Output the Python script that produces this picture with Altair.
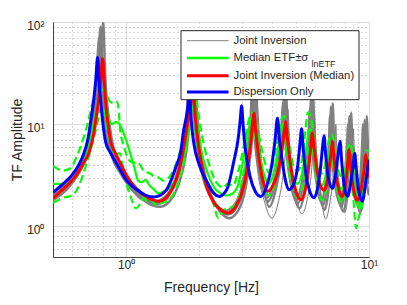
import altair as alt
import pandas as pd

# ---------------- data ----------------
# Dispersion Only (blue)
blue_f = [0.50, 0.55, 0.592, 0.635, 0.672, 0.70, 0.716, 0.735, 0.75, 0.763, 0.775, 0.787, 0.805, 0.825, 0.86,
          0.893, 0.95, 1.0, 1.026, 1.1, 1.2, 1.3, 1.45, 1.597, 1.68, 1.727, 1.76, 1.799, 1.816, 1.835, 1.86,
          1.9, 2.0, 2.148, 2.28, 2.414, 2.6, 2.767, 2.901, 2.95, 2.99, 3.03, 3.088, 3.237, 3.4, 3.58, 3.8,
          3.98, 4.1, 4.2, 4.28, 4.39, 4.53, 4.69, 4.9, 5.08, 5.2, 5.28, 5.36, 5.5, 5.7, 5.94, 6.15, 6.32,
          6.45, 6.53, 6.62, 6.75, 7.07, 7.3, 7.47, 7.6, 7.72, 7.9, 8.15, 8.4, 8.6, 8.73, 8.85, 9.05, 9.39,
          9.65, 9.85, 10.0]
blue_a = [2.15, 2.6, 3.08, 3.9, 5.25, 7.6, 11.0, 17, 27, 45, 25, 16.2, 9.5, 6.6, 5.3,
          4.5, 3.5, 2.85, 2.66, 2.3, 2.02, 1.93, 2.2, 3.7, 5.5, 8.8, 11, 15.5, 35, 17, 10,
          6.5, 4.0, 2.75, 2.15, 1.96, 2.3, 4.17, 7.58, 11, 15.1, 10, 6.05, 3.08, 2.2, 1.96, 2.5,
          4.0, 6.8, 11.4, 7, 4.4, 2.8, 2.28, 2.6, 3.8, 6.5, 9.0, 5.8, 3.2, 2.2, 1.9, 2.4, 3.8,
          6.2, 7.7, 5.3, 3.3, 2.35, 3.3, 5.2, 6.8, 4.3, 2.5, 1.96, 2.6, 3.9, 5.2, 3.8, 2.3, 1.75,
          2.5, 3.6, 4.5]

# Joint Inversion (Median) (red)
red_f = [0.50, 0.56, 0.62, 0.665, 0.704, 0.735, 0.75, 0.77, 0.786, 0.80, 0.812, 0.825, 0.845, 0.865, 0.9,
         0.94, 1.0, 1.1, 1.2, 1.37, 1.5, 1.6, 1.66, 1.72, 1.79, 1.855, 1.88, 1.91, 1.96, 2.03, 2.15, 2.3,
         2.45, 2.63, 2.82, 2.98, 3.15, 3.27, 3.36, 3.42, 3.48, 3.58, 3.7, 3.83, 4.02, 4.2, 4.37, 4.47, 4.54,
         4.6, 4.66, 4.8, 5.0, 5.24, 5.42, 5.58, 5.72, 5.85, 5.93, 6.0, 6.15, 6.33, 6.53, 6.7, 6.88, 7.0,
         7.07, 7.14, 7.22, 7.42, 7.6, 7.77, 7.97, 8.13, 8.27, 8.38, 8.5, 8.7, 8.96, 9.2, 9.4, 9.57, 9.69,
         9.8, 10.0]
red_a = [1.88, 2.4, 3.1, 4.1, 5.3, 8, 11, 17, 27, 44, 27, 16, 9.5, 6.6, 5.3,
         4.3, 3.2, 2.35, 1.98, 1.76, 2.05, 2.8, 3.7, 5.6, 10, 18, 40, 16, 8, 4.4, 2.4, 1.7,
         1.45, 1.35, 1.55, 2.05, 3.6, 7, 12.8, 8.5, 5.8, 3.6, 2.55, 2.2, 2.5, 3.3, 5.5, 8, 10.6,
         7.8, 5.8, 3.4, 2.2, 1.82, 2.1, 3.0, 5, 8.2, 6.2, 4.8, 3.2, 2.45, 2.25, 2.6, 4.0, 5.6,
         6.8, 5.4, 4.1, 2.6, 2.1, 1.96, 2.4, 3.6, 5.6, 4.3, 3.0, 2.1, 1.8, 2.1, 2.8, 3.8, 5.0,
         4.2, 3.0]

# Median ETF (green solid) and median ETF +/- sigma (green dashed)
gs_f = [0.50, 0.56, 0.62, 0.66, 0.70, 0.735, 0.76, 0.785, 0.81, 0.835, 0.87, 0.91, 0.94, 0.97, 1.0,
        1.04, 1.08, 1.12, 1.16, 1.2, 1.25, 1.3, 1.36, 1.43, 1.52, 1.62, 1.72, 1.80, 1.85, 1.88, 1.93,
        1.98, 2.04, 2.15, 2.3, 2.45, 2.6, 2.75, 2.9, 3.05, 3.2, 3.3, 3.4, 3.55, 3.7, 3.85, 4.0, 4.15,
        4.3, 4.42, 4.55, 4.7, 4.9, 5.1, 5.3, 5.5, 5.7, 5.85, 6.0, 6.2, 6.4, 6.6, 6.8, 6.95, 7.1, 7.3,
        7.5, 7.8, 8.0, 8.2, 8.4, 8.6, 8.85, 9.1, 9.3, 9.5, 9.7, 9.85, 10.0]
gs_a = [2.6, 2.6, 3.0, 4.0, 6.0, 10, 15, 21, 22, 14, 10, 10.5, 10, 8.5, 7.0,
        5.2, 3.8, 2.8, 2.7, 2.85, 2.5, 2.3, 2.1, 2.2, 2.4, 3.1, 4.8, 9, 20, 24, 13,
        8.5, 5.5, 3.5, 2.4, 2.1, 2.0, 2.1, 2.6, 4.8, 9, 12, 10, 5, 3.2, 2.6, 3.0, 4.5,
        7.5, 10, 7, 4, 2.8, 2.6, 3.3, 5.5, 9, 8, 5, 3.0, 2.5, 3.0, 4.5, 6.5, 5.5, 3.5,
        2.5, 2.3, 3.3, 5.0, 4.5, 3.0, 2.0, 1.5, 2.0, 3.0, 4.2, 4.5, 4.6]
gu_f = [0.50, 0.55, 0.59, 0.63, 0.67, 0.70, 0.73, 0.75, 0.775, 0.80, 0.83, 0.86, 0.89, 0.92, 0.95,
        0.98, 1.02, 1.07, 1.12, 1.18, 1.25, 1.3, 1.36, 1.42, 1.5, 1.6, 1.7, 1.78, 1.84, 1.9, 1.96,
        2.03, 2.1, 2.2, 2.35, 2.5, 2.62, 2.75, 2.9, 3.05, 3.2, 3.32, 3.45, 3.6, 3.75, 3.9, 4.05, 4.2,
        4.35, 4.48, 4.6, 4.75, 4.9, 5.1, 5.3, 5.45, 5.6, 5.75, 5.9, 6.05, 6.25, 6.45, 6.65, 6.85, 7.0,
        7.15, 7.35, 7.55, 7.8, 8.0, 8.2, 8.4, 8.6, 8.85, 9.1, 9.35, 9.55, 9.75, 10.0]
gu_a = [3.9, 3.5, 3.7, 5.0, 7.5, 11, 17, 23, 27, 25, 20, 16.5, 16, 16.5, 8,
        6, 4.6, 4.2, 4.2, 3.5, 3.3, 3.1, 3.0, 2.8, 3.0, 4.0, 6.5, 12, 22, 30, 16,
        9, 6, 4.0, 2.7, 2.4, 2.6, 2.5, 3.5, 6, 11, 13, 10, 6, 4, 3.3, 4.5, 7,
        11, 12, 9, 5.5, 3.8, 3.5, 4.5, 8, 13, 12, 8, 5, 3.5, 3.3, 4.5, 7, 8,
        7, 4.5, 3.3, 3.0, 4.0, 6, 6.5, 4.5, 3.0, 2.3, 2.8, 4, 5.5, 5.5]
gl_f = [0.50, 0.55, 0.60, 0.64, 0.68, 0.72, 0.76, 0.79, 0.81, 0.83, 0.86, 0.90, 0.94, 0.97, 1.0,
        1.04, 1.1, 1.14, 1.18, 1.22, 1.27, 1.33, 1.4, 1.5, 1.6, 1.7, 1.78, 1.83, 1.87, 1.92, 1.98,
        2.05, 2.15, 2.28, 2.4, 2.5, 2.6, 2.75, 2.9, 3.05, 3.2, 3.3, 3.42, 3.55, 3.7, 3.85, 4.0, 4.15,
        4.3, 4.42, 4.55, 4.7, 4.9, 5.1, 5.3, 5.5, 5.7, 5.85, 6.0, 6.2, 6.4, 6.6, 6.8, 6.95, 7.1,
        7.3, 7.5, 7.8, 8.0, 8.2, 8.4, 8.6, 8.85, 9.05, 9.3, 9.5, 9.7, 10.0]
gl_a = [1.7, 1.9, 2.0, 2.5, 3.8, 6, 10, 15, 14, 9.5, 6.5, 5.0, 5.2, 3.8, 2.7,
        2.0, 1.5, 1.65, 1.9, 1.75, 1.8, 1.6, 1.7, 1.8, 2.3, 3.5, 6.5, 11, 15, 9, 5.5,
        3.5, 2.4, 1.7, 1.2, 1.4, 1.5, 1.55, 1.9, 3.5, 6.5, 8.5, 7, 4, 2.6, 2.0, 2.2, 3.2,
        5.5, 7, 5.5, 3.2, 2.2, 1.9, 2.4, 4, 6, 5.5, 3.5, 2.2, 1.8, 2.0, 3.2, 4.5, 4.0,
        2.6, 1.9, 1.7, 2.3, 3.5, 3.2, 2.0, 0.96, 1.2, 1.5, 2.2, 3.0, 3.2]

# Joint Inversion ensemble (gray) - representative members
gA_f = [0.50, 0.58, 0.65, 0.70, 0.74, 0.765, 0.785, 0.80, 0.83, 0.88, 0.95, 1.05, 1.18, 1.34, 1.5,
        1.63, 1.74, 1.81, 1.86, 1.91, 1.98, 2.1, 2.3, 2.62, 2.9, 3.1, 3.24, 3.31, 3.35, 3.39, 3.47,
        3.6, 3.83, 4.1, 4.3, 4.42, 4.47, 4.52, 4.63, 4.8, 5.08, 5.35, 5.58, 5.71, 5.77, 5.83, 5.95,
        6.15, 6.45, 6.7, 6.85, 6.93, 6.97, 7.01, 7.12, 7.35, 7.7, 7.95, 8.15, 8.25, 8.3, 8.36, 8.5,
        8.7, 9.05, 9.3, 9.48, 9.56, 9.6, 9.66, 9.8, 10.0]
gA_a = [1.95, 2.6, 4.0, 6.5, 13, 30, 90, 30, 11, 5.0, 3.6, 2.5, 1.9, 1.65, 2.0,
        3.0, 6, 15, 50, 15, 6, 2.9, 1.7, 1.3, 1.65, 3.0, 7, 14, 28, 14, 6,
        3.0, 1.75, 2.6, 5, 11, 20, 11, 5, 2.6, 1.65, 2.5, 5, 10, 18, 10, 5,
        2.6, 1.6, 2.4, 4.5, 9, 15, 9, 4.5, 2.3, 1.55, 2.4, 4.5, 8, 12, 8, 4,
        2.3, 1.55, 2.4, 5, 8, 11, 7.5, 4, 2.6]
gB_f = [0.50, 0.58, 0.65, 0.70, 0.735, 0.758, 0.775, 0.79, 0.82, 0.87, 0.94, 1.04, 1.16, 1.32, 1.48,
        1.6, 1.72, 1.79, 1.84, 1.89, 1.96, 2.08, 2.28, 2.58, 2.85, 3.05, 3.2, 3.26, 3.3, 3.34, 3.42,
        3.55, 3.78, 4.05, 4.25, 4.37, 4.42, 4.47, 4.58, 4.75, 5.0, 5.28, 5.52, 5.65, 5.7, 5.76, 5.88,
        6.08, 6.35, 6.6, 6.78, 6.86, 6.9, 6.95, 7.06, 7.28, 7.6, 7.85, 8.05, 8.15, 8.2, 8.26, 8.4,
        8.6, 8.9, 9.15, 9.33, 9.41, 9.45, 9.51, 9.65, 9.85, 10.0]
gB_a = [2.05, 2.8, 4.3, 7.5, 16, 35, 70, 25, 10, 5.0, 3.4, 2.4, 1.85, 1.75, 2.05,
        3.0, 6.5, 16, 40, 14, 6, 2.9, 1.8, 1.42, 1.75, 3.0, 7, 12, 22, 12, 6,
        3.1, 1.9, 2.7, 5, 10, 16, 10, 5, 2.7, 1.8, 2.6, 5, 9, 14, 9, 5,
        2.7, 1.75, 2.5, 4.5, 8, 12, 8, 4.5, 2.4, 1.7, 2.5, 4.5, 7.5, 10, 7, 4,
        2.4, 1.7, 2.4, 5, 8, 10, 7, 3.8, 2.4, 2.0]
gC_f = [0.50, 0.58, 0.66, 0.72, 0.76, 0.785, 0.805, 0.82, 0.85, 0.9, 0.97, 1.07, 1.2, 1.38, 1.55,
        1.67, 1.78, 1.85, 1.9, 1.95, 2.02, 2.14, 2.35, 2.66, 2.95, 3.15, 3.3, 3.38, 3.42, 3.46, 3.54,
        3.66, 3.88, 4.15, 4.37, 4.5, 4.55, 4.6, 4.71, 4.88, 5.17, 5.45, 5.68, 5.82, 5.88, 5.94, 6.05,
        6.25, 6.55, 6.8, 6.97, 7.06, 7.1, 7.15, 7.27, 7.48, 7.85, 8.1, 8.3, 8.4, 8.45, 8.51, 8.65,
        8.85, 9.2, 9.45, 9.62, 9.72, 9.8, 9.86, 10.0]
gC_a = [1.8, 2.4, 3.8, 6.5, 13, 30, 100, 30, 11, 5.0, 3.4, 2.3, 1.75, 1.55, 1.9,
        2.9, 6, 16, 60, 15, 6, 2.8, 1.6, 1.2, 1.55, 2.9, 7, 15, 30, 15, 6,
        2.9, 1.55, 2.4, 5, 12, 22, 12, 5, 2.4, 1.5, 2.3, 5, 11, 20, 11, 5,
        2.4, 1.45, 2.2, 4.5, 9, 16, 9, 4.5, 2.2, 1.4, 2.2, 4.5, 8, 13, 8, 4,
        2.2, 1.35, 2.2, 4.5, 8, 12, 8, 4.5]
gD_f = [0.50, 0.6, 0.68, 0.74, 0.77, 0.79, 0.81, 0.85, 0.92, 1.02, 1.15, 1.36, 1.55, 1.68, 1.78,
        1.84, 1.87, 1.91, 1.98, 2.1, 2.3, 2.65, 2.95, 3.12, 3.23, 3.3, 3.36, 3.48, 3.7, 3.98,
        4.25, 4.45, 4.57, 4.64, 4.7, 4.84, 5.03, 5.3, 5.58, 5.8, 5.91, 5.97, 6.03, 6.17, 6.37,
        6.63, 6.9, 7.12, 7.24, 7.3, 7.36, 7.5, 7.7, 7.95, 8.2, 8.42, 8.55, 8.62, 8.69, 8.85,
        9.05, 9.3, 9.55, 9.75, 9.88, 10.0]
gD_a = [1.9, 2.8, 4.5, 10, 25, 60, 22, 9, 4.2, 2.5, 1.9, 1.7, 2.0, 3.0, 6.5,
        15, 30, 14, 6, 2.8, 1.7, 1.3, 1.8, 3.2, 7, 18, 8, 3.5, 1.8, 1.2,
        1.8, 3.5, 7, 14, 7, 3.5, 1.9, 1.32, 1.9, 3.5, 7, 12, 6.5, 3.2, 1.8,
        1.18, 1.7, 3.2, 6, 10, 6, 3.0, 1.8, 1.35, 2.0, 3.8, 6.5, 9, 6, 3,
        1.9, 1.4, 2.0, 3.5, 6.5, 5]

# axes
x_ticks = [0.5, 0.6, 0.7, 0.8, 0.9, 1, 2, 3, 4, 5, 6, 7, 8, 9, 10]
y_ticks = [0.5, 0.6, 0.7, 0.8, 0.9, 1, 2, 3, 4, 5, 6, 7, 8, 9, 10,
           20, 30, 40, 50, 60, 70, 80, 90, 100]
major_vals = [1, 10, 100]
major_labels = ["10\u2070", "10\u00b9", "10\u00b2"]

legend_labels = ["Joint Inversion", "Median ETF\u00b1\u03c3", "Joint Inversion (Median)", "Dispersion Only"]
legend_sub = "lnETF"

# ---------------- chart ----------------
FONT = "Liberation Sans"
TXT = "#262626"

label_expr = " : ".join(f"datum.value == {v} ? '{l}'" for v, l in zip(major_vals, major_labels)) + " : ''"
major_test = " || ".join(f"datum.value == {v}" for v in major_vals)


def make_axis(values, label_pad, title_pad, label_offset=0):
    return alt.Axis(
        values=values, labelExpr=label_expr, grid=True,
        gridColor={"condition": {"test": major_test, "value": "#dcdcdc"}, "value": "#b5b5b5"},
        gridDash={"condition": {"test": major_test, "value": []}, "value": [1, 3]},
        gridWidth=1, ticks=False, domainColor="#404040", domainWidth=1,
        labelFont=FONT, labelFontSize=12, labelColor=TXT, labelPadding=label_pad,
        labelOffset=label_offset,
        titleFont=FONT, titleFontSize=14, titleFontWeight="normal", titleColor=TXT,
        titlePadding=title_pad, labelOverlap=False, labelFlush=False,
    )


X = alt.X("f:Q", scale=alt.Scale(type="log", domain=[0.5, 10]),
          axis=make_axis(x_ticks, 2, 10), title="Frequency [Hz]")
Y = alt.Y("A:Q", scale=alt.Scale(type="log", domain=[0.5, 100]),
          axis=make_axis(y_ticks, 9, 2, 3), title="TF Amplitude")


def line(f, a, color, width, dash=None):
    kw = dict(color=color, strokeWidth=width, interpolate="monotone", clip=True)
    if dash is not None:
        kw["strokeDash"] = dash
    df = pd.DataFrame({"f": f, "A": a})
    return alt.Chart(df).mark_line(**kw).encode(x=X, y=Y)


GRAY = "#808080"
layers = [
    line(gA_f, gA_a, GRAY, 2.5),
    line(gB_f, gB_a, GRAY, 2.5),
    line(gC_f, gC_a, GRAY, 2.5),
    line(gD_f, gD_a, "#7a7a7a", 1),
    line(gl_f, gl_a, "#00ff00", 2.2, [8, 4]),
    line(gu_f, gu_a, "#00ff00", 2.2, [8, 4]),
    line(gs_f, gs_a, "#00ff00", 2.2),
    line(red_f, red_a, "#ff0000", 3),
    line(blue_f, blue_a, "#0000ff", 3),
]

# legend (inside the plot, top right)
one = pd.DataFrame({"k": [0]})
layers.append(
    alt.Chart(one).mark_rect(fill="white", stroke="#262626", strokeWidth=1).encode(
        x=alt.value(128), x2=alt.value(306), y=alt.value(8.7), y2=alt.value(77.7))
)
row_y = [18.7, 36, 53.7, 70]
row_style = [(GRAY, 1), ("#00ff00", 2.5), ("#ff0000", 3), ("#0000ff", 3)]
for lab, ry, (col, w) in zip(legend_labels, row_y, row_style):
    layers.append(
        alt.Chart(one).mark_rule(color=col, strokeWidth=w).encode(
            x=alt.value(134), x2=alt.value(175.6), y=alt.value(ry))
    )
    layers.append(
        alt.Chart(pd.DataFrame({"t": [lab]})).mark_text(
            align="left", baseline="middle", font=FONT, fontSize=11.3, color=TXT
        ).encode(x=alt.value(180.6), y=alt.value(ry), text="t:N")
    )
layers.append(
    alt.Chart(pd.DataFrame({"t": [legend_sub]})).mark_text(
        align="left", baseline="middle", font=FONT, fontSize=9, color=TXT
    ).encode(x=alt.value(258.5), y=alt.value(41.5), text="t:N")
)

chart = alt.layer(*layers).properties(
    width=316, height=235,
    padding={"left": 45, "top": 14, "right": 30, "bottom": 40},
    autosize=alt.AutoSizeParams(type="none"),
    background="white",
).configure_view(strokeWidth=0)

chart.save("out.html", embed_options={"renderer": "svg", "actions": False})
